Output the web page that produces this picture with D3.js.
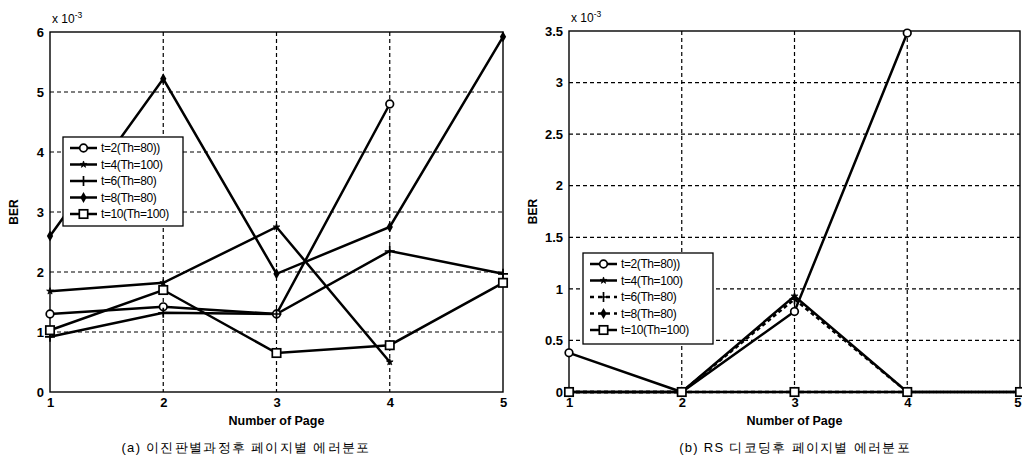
<!DOCTYPE html>
<html>
<head>
<meta charset="utf-8">
<script src="https://cdn.jsdelivr.net/npm/d3@7/dist/d3.min.js"></script>
<style>
  body { margin: 0; background: #fff; }
  svg { display: block; }
  text { font-family: "Liberation Sans", Arial, sans-serif; fill: #000; }
</style>
</head>
<body>
<div id="chart"></div>
<script>
// pages on the x axis
const pages = [1, 2, 3, 4, 5];

// series names and marker types
const seriesNames = ["t=2(Th=80))", "t=4(Th=100)", "t=6(Th=80)", "t=8(Th=80)", "t=10(Th=100)"];
const seriesMarkers = ["circle", "star", "plus", "diamond", "square"];

// (a) BER after binary decision, x 10^-3 (null = no value)
const berA_t2 = [1.3, 1.42, 1.3, 4.8, null];
const berA_t4 = [1.68, 1.82, 2.75, 0.5, null];
const berA_t6 = [0.92, 1.32, 1.3, 2.35, 1.97];
const berA_t8 = [2.6, 5.22, 1.97, 2.75, 5.92];
const berA_t10 = [1.03, 1.7, 0.65, 0.78, 1.82];

// (b) BER after RS decoding, x 10^-3
const berB_t2 = [0.38, 0, 0.78, 3.48, null];
const berB_t4 = [0, 0, 0.93, 0, null];
const berB_t6 = [0, 0, 0.9, 0, 0];
const berB_t8 = [0, 0, 0, 0, 0];
const berB_t10 = [0, 0, 0, 0, 0];

// tick values
const yTicksA = [0, 1, 2, 3, 4, 5, 6];
const yTicksB = [0, 0.5, 1, 1.5, 2, 2.5, 3, 3.5];

const captionA = "(a) 이진판별과정후 페이지별 에러분포";
const captionB = "(b) RS 디코딩후 페이지별 에러분포";

const width = 1022;
const height = 462;

const svg = d3.select("#chart").append("svg")
    .attr("width", width)
    .attr("height", height);

// draw one marker of the given type at (x, y)
function drawMarker(g, type, x, y) {
    if (type === "circle") {
        g.append("circle").attr("cx", x).attr("cy", y).attr("r", 3.8)
            .attr("fill", "#fff").attr("stroke", "#000").attr("stroke-width", 1.7);
    } else if (type === "square") {
        g.append("rect").attr("x", x - 4.2).attr("y", y - 4.2).attr("width", 8.4).attr("height", 8.4)
            .attr("fill", "#fff").attr("stroke", "#000").attr("stroke-width", 1.7);
    } else if (type === "plus") {
        g.append("path").attr("d", `M${x - 5},${y}H${x + 5}M${x},${y - 5}V${y + 5}`)
            .attr("stroke", "#000").attr("stroke-width", 1.7);
    } else if (type === "diamond") {
        g.append("path").attr("d", d3.symbol(d3.symbolDiamond, 34)())
            .attr("transform", `translate(${x},${y})`).attr("fill", "#000");
    } else if (type === "star") {
        g.append("path").attr("d", d3.symbol(d3.symbolStar, 14)())
            .attr("transform", `translate(${x},${y})`).attr("fill", "#000")
            .attr("stroke", "#000").attr("stroke-width", 0.8);
    }
}

function drawPanel(opts) {
    const g = svg.append("g");
    const x = d3.scaleLinear().domain([1, 5]).range([opts.left, opts.right]);
    const y = d3.scaleLinear().domain([0, opts.yMax]).range([opts.bottom, opts.top]);

    // dashed grid
    g.append("g")
        .selectAll("line.vg")
        .data(pages.slice(1, -1))
        .join("line")
        .attr("x1", d => x(d)).attr("x2", d => x(d))
        .attr("y1", opts.top).attr("y2", opts.bottom)
        .attr("stroke", "#000").attr("stroke-width", 1.2).attr("stroke-dasharray", "4,3");
    g.append("g")
        .selectAll("line.hg")
        .data(opts.yTicks.slice(1, -1))
        .join("line")
        .attr("x1", opts.left).attr("x2", opts.right)
        .attr("y1", d => y(d)).attr("y2", d => y(d))
        .attr("stroke", "#000").attr("stroke-width", 1.2).attr("stroke-dasharray", "4,3");

    // box
    g.append("rect")
        .attr("x", opts.left).attr("y", opts.top)
        .attr("width", opts.right - opts.left).attr("height", opts.bottom - opts.top)
        .attr("fill", "none").attr("stroke", "#000").attr("stroke-width", 1.4);

    // axes
    const xAxis = g.append("g")
        .attr("transform", `translate(0,${opts.bottom})`)
        .call(d3.axisBottom(x).tickValues(pages).tickSize(0).tickPadding(6).tickFormat(d3.format("d")));
    const yAxis = g.append("g")
        .attr("transform", `translate(${opts.left},0)`)
        .call(d3.axisLeft(y).tickValues(opts.yTicks).tickSize(0).tickPadding(6).tickFormat(d3.format("~g")));
    [xAxis, yAxis].forEach(a => {
        a.select(".domain").remove();
        a.selectAll("text").attr("font-family", "Liberation Sans, Arial, sans-serif")
            .attr("font-size", 13).attr("font-weight", "bold");
    });
    // keep the last page label inside the window
    if (opts.lastTickEnd) {
        xAxis.selectAll(".tick").filter(d => d === 5).select("text")
            .attr("text-anchor", "end").attr("dx", 1);
    }

    // scale multiplier
    const mult = g.append("text").attr("x", opts.left + 2).attr("y", opts.top - 9)
        .attr("font-size", 12);
    mult.append("tspan").text("x 10");
    mult.append("tspan").attr("dy", -5).attr("font-size", 8.5).text("-3");

    // axis titles
    g.append("text")
        .attr("x", (opts.left + opts.right) / 2).attr("y", 425)
        .attr("text-anchor", "middle").attr("font-size", 12.5).attr("font-weight", "bold")
        .text("Number of Page");
    g.append("text")
        .attr("transform", `translate(${opts.left - 32},${(opts.top + opts.bottom) / 2}) rotate(-90)`)
        .attr("text-anchor", "middle").attr("font-size", 12).attr("font-weight", "bold")
        .text("BER");

    // lines and markers
    const line = d3.line()
        .defined(d => d != null)
        .x((d, i) => x(pages[i]))
        .y(d => y(d));
    opts.series.forEach((vals, k) => {
        g.append("path")
            .datum(vals)
            .attr("d", line)
            .attr("fill", "none").attr("stroke", "#000").attr("stroke-width", 2.5)
            .attr("stroke-dasharray", opts.dashed[k] ? "4,3" : null);
    });
    opts.series.forEach((vals, k) => {
        vals.forEach((v, i) => {
            if (v != null) drawMarker(g, seriesMarkers[k], x(pages[i]), y(v));
        });
    });

    // legend
    const lg = g.append("g");
    lg.append("rect")
        .attr("x", opts.legend.x).attr("y", opts.legend.y)
        .attr("width", opts.legend.w).attr("height", opts.legend.h)
        .attr("fill", "#fff").attr("stroke", "#000").attr("stroke-width", 1.3);
    seriesNames.forEach((name, k) => {
        const ry = opts.legend.y + 11 + k * 16.5;
        const lx = opts.legend.x + 7;
        lg.append("line")
            .attr("x1", lx).attr("x2", lx + 27).attr("y1", ry).attr("y2", ry)
            .attr("stroke", "#000").attr("stroke-width", 2.5)
            .attr("stroke-dasharray", opts.dashed[k] ? "4,4" : null);
        drawMarker(lg, seriesMarkers[k], lx + 13.5, ry);
        lg.append("text")
            .attr("x", lx + 31).attr("y", ry + 4)
            .attr("font-size", 12).attr("letter-spacing", -0.4)
            .text(name);
    });

    // caption
    g.append("text")
        .attr("x", opts.captionX).attr("y", 452)
        .attr("text-anchor", "middle")
        .attr("font-family", "Noto Sans CJK KR, sans-serif")
        .attr("font-size", 13).attr("letter-spacing", 1.3)
        .text(opts.caption);
}

drawPanel({
    left: 50, right: 503, top: 32, bottom: 392, yMax: 6,
    yTicks: yTicksA,
    series: [berA_t2, berA_t4, berA_t6, berA_t8, berA_t10],
    dashed: [false, false, false, false, false],
    legend: { x: 63, y: 137, w: 120, h: 89 },
    caption: captionA, captionX: 246
});

drawPanel({
    left: 569, right: 1020, top: 31, bottom: 392, yMax: 3.5,
    yTicks: yTicksB,
    series: [berB_t2, berB_t4, berB_t6, berB_t8, berB_t10],
    dashed: [false, false, true, true, false],
    legend: { x: 583, y: 253, w: 130, h: 91 },
    caption: captionB, captionX: 795,
    lastTickEnd: true
});
</script>
</body>
</html>
